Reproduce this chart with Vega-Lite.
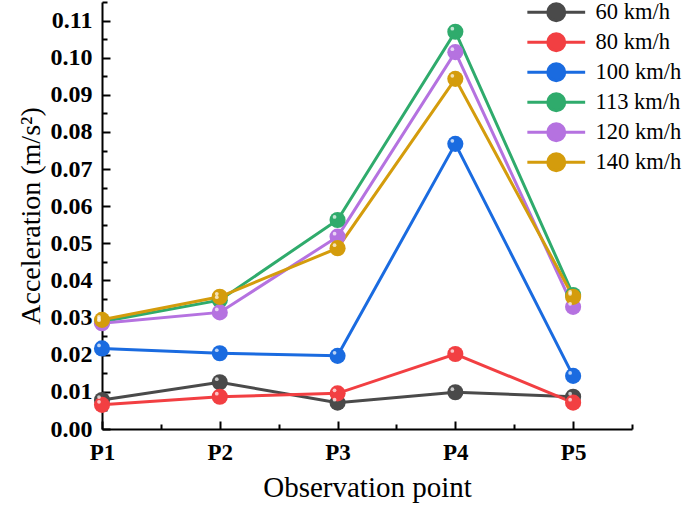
{
  "$schema": "https://vega.github.io/schema/vega-lite/v6.json",
  "width": 530,
  "height": 427,
  "autosize": "none",
  "padding": {"left": 102, "top": 2, "right": 53, "bottom": 76},
  "background": "white",
  "config": {"view": {"stroke": null}, "font": "Liberation Serif"},
  "data": {"values": [
    {"speed": "60 km/h", "point": "P1", "acc": 0.0078},
    {"speed": "60 km/h", "point": "P2", "acc": 0.0126},
    {"speed": "60 km/h", "point": "P3", "acc": 0.0071},
    {"speed": "60 km/h", "point": "P4", "acc": 0.0099},
    {"speed": "60 km/h", "point": "P5", "acc": 0.0087},
    {"speed": "80 km/h", "point": "P1", "acc": 0.0065},
    {"speed": "80 km/h", "point": "P2", "acc": 0.0087},
    {"speed": "80 km/h", "point": "P3", "acc": 0.0096},
    {"speed": "80 km/h", "point": "P4", "acc": 0.0202},
    {"speed": "80 km/h", "point": "P5", "acc": 0.0071},
    {"speed": "100 km/h", "point": "P1", "acc": 0.0217},
    {"speed": "100 km/h", "point": "P2", "acc": 0.0204},
    {"speed": "100 km/h", "point": "P3", "acc": 0.0197},
    {"speed": "100 km/h", "point": "P4", "acc": 0.0768},
    {"speed": "100 km/h", "point": "P5", "acc": 0.0143},
    {"speed": "113 km/h", "point": "P1", "acc": 0.0289},
    {"speed": "113 km/h", "point": "P2", "acc": 0.0347},
    {"speed": "113 km/h", "point": "P3", "acc": 0.0563},
    {"speed": "113 km/h", "point": "P4", "acc": 0.1070},
    {"speed": "113 km/h", "point": "P5", "acc": 0.0361},
    {"speed": "120 km/h", "point": "P1", "acc": 0.0285},
    {"speed": "120 km/h", "point": "P2", "acc": 0.0314},
    {"speed": "120 km/h", "point": "P3", "acc": 0.0518},
    {"speed": "120 km/h", "point": "P4", "acc": 0.1015},
    {"speed": "120 km/h", "point": "P5", "acc": 0.0329},
    {"speed": "140 km/h", "point": "P1", "acc": 0.0294},
    {"speed": "140 km/h", "point": "P2", "acc": 0.0356},
    {"speed": "140 km/h", "point": "P3", "acc": 0.0487},
    {"speed": "140 km/h", "point": "P4", "acc": 0.0943},
    {"speed": "140 km/h", "point": "P5", "acc": 0.0356}
  ]},
  "transform": [{"calculate": "toNumber(substring(datum.point, 1))", "as": "idx"}],
  "encoding": {
    "x": {
      "field": "idx", "type": "quantitative",
      "scale": {"domain": [1, 5.5], "nice": false, "zero": false},
      "axis": {
        "values": [1, 1.5, 2, 2.5, 3, 3.5, 4, 4.5, 5, 5.5],
        "labelExpr": "datum.value % 1 == 0 ? 'P' + datum.value : ''",
        "title": "Observation point",
        "titleFont": "Liberation Serif", "titleFontSize": 29, "titleFontWeight": "normal", "titleColor": "black", "titlePadding": 6,
        "labelFont": "Liberation Serif", "labelFontSize": 23, "labelFontWeight": "bold", "labelColor": "black",
        "labelPadding": 20, "labelFlush": false, "labelOverlap": false,
        "domainColor": "black", "domainWidth": 2,
        "tickColor": "black", "tickWidth": 2,
        "tickSize": {"condition": {"test": "datum.value % 1 == 0", "value": -8}, "value": -5},
        "grid": false
      }
    },
    "y": {
      "field": "acc", "type": "quantitative",
      "scale": {"domain": [0, 0.115], "nice": false},
      "axis": {
        "values": [0, 0.005, 0.01, 0.015, 0.02, 0.025, 0.03, 0.035, 0.04, 0.045, 0.05, 0.055, 0.06, 0.065, 0.07, 0.075, 0.08, 0.085, 0.09, 0.095, 0.1, 0.105, 0.11, 0.115],
        "labelExpr": "round(datum.value * 200) % 2 == 0 ? format(datum.value, '.2f') : ''",
        "title": "Acceleration (m/s²)",
        "titleFont": "Liberation Serif", "titleFontSize": 28, "titleFontWeight": "normal", "titleColor": "black", "titlePadding": 5,
        "labelFont": "Liberation Serif", "labelFontSize": 24, "labelFontWeight": "bold", "labelColor": "black",
        "labelPadding": 18, "labelFlush": false, "labelOverlap": false,
        "domainColor": "black", "domainWidth": 2,
        "tickColor": "black", "tickWidth": 2,
        "tickSize": {"condition": {"test": "round(datum.value * 200) % 2 == 0", "value": -8}, "value": -5},
        "grid": false
      }
    }
  },
  "layer": [
    {
      "mark": {"type": "line", "strokeWidth": 3},
      "encoding": {
        "color": {
          "field": "speed", "type": "nominal",
          "scale": {
            "domain": ["60 km/h", "80 km/h", "100 km/h", "113 km/h", "120 km/h", "140 km/h"],
            "range": ["#4a4a4a", "#f23f42", "#1a6be0", "#2fab6c", "#b572e0", "#d49c0c"]
          },
          "sort": ["60 km/h", "80 km/h", "100 km/h", "113 km/h", "120 km/h", "140 km/h"],
          "legend": {
            "title": null,
            "orient": "none", "legendX": 443, "legendY": -1,
            "symbolType": "M-3.4,0H-1M1,0H3.4M-1,0A1,1 0 1,0 1,0A1,1 0 1,0 -1,0Z",
            "symbolSize": 289, "symbolStrokeWidth": 3,
            "labelFont": "Liberation Serif", "labelFontSize": 22.5, "labelColor": "black", "labelOffset": 28,
            "rowPadding": 0,
            "encode": {"symbols": {"update": {
              "fill": {"scale": "color", "field": "value"},
              "stroke": {"scale": "color", "field": "value"},
              "strokeWidth": {"value": 3},
              "opacity": {"value": 1}
            }}}
          }
        }
      }
    },
    {
      "mark": {"type": "point", "filled": true, "opacity": 1, "size": 260, "strokeWidth": 0},
      "encoding": {
        "fill": {
          "field": "speed", "type": "nominal",
          "scale": {
            "domain": ["60 km/h", "80 km/h", "100 km/h", "113 km/h", "120 km/h", "140 km/h"],
            "range": ["#4a4a4a", "#f23f42", "#1a6be0", "#2fab6c", "#b572e0", "#d49c0c"]
          },
          "legend": null
        }
      }
    },
    {
      "mark": {"type": "point", "filled": true, "color": "white", "opacity": 0.7, "size": 14, "xOffset": -3, "yOffset": -3}
    }
  ]
}
